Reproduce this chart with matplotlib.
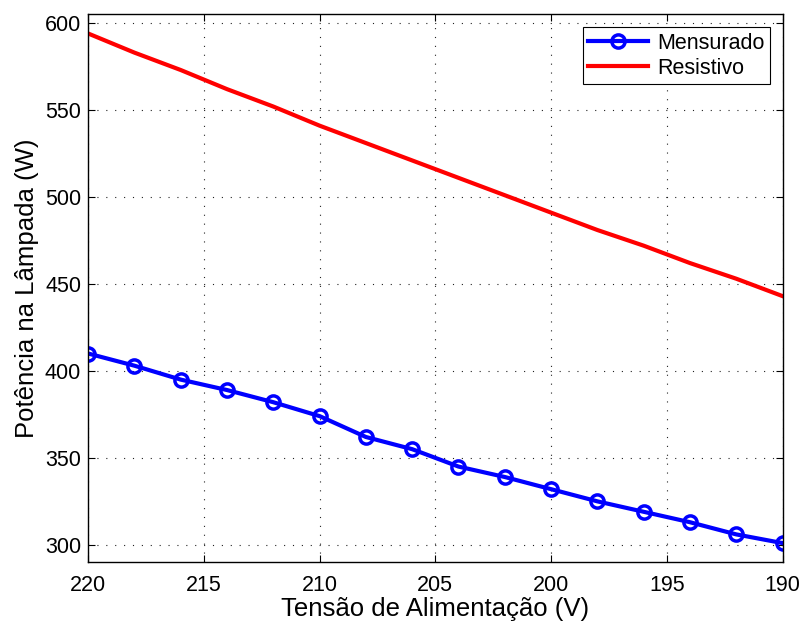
import matplotlib.pyplot as plt

plt.rcParams['font.family'] = ['Liberation Sans', 'DejaVu Sans']

# Supply voltage (V), stepping down from 220 to 190
tensao = [220, 218, 216, 214, 212, 210, 208, 206, 204, 202, 200, 198, 196, 194, 192, 190]

# Measured lamp power (W)
mensurado = [410, 403, 395, 389, 382, 374, 362, 355, 345, 339, 332, 325, 319, 313, 306, 301]

# Power of an equivalent resistive load (W)
resistivo = [594, 583, 573, 562, 552, 541, 531, 521, 511, 501, 491, 481, 472, 462, 453, 443]

fig = plt.figure(figsize=(8.01, 6.24), dpi=100)
ax = fig.add_axes([0.110, 0.099, 0.867, 0.878])

ax.plot(tensao, mensurado, color='#0000ff', linewidth=3, marker='o',
        markersize=9.5, markerfacecolor='none', markeredgewidth=2.5,
        label='Mensurado')
ax.plot(tensao, resistivo, color='#ff0000', linewidth=3, label='Resistivo')

ax.set_xlim(220, 190)
ax.set_ylim(290, 605)
ax.set_xticks([220, 215, 210, 205, 200, 195, 190])
ax.set_yticks([300, 350, 400, 450, 500, 550, 600])
ax.tick_params(direction='in', top=True, right=True, labelsize=15.5, length=5)
ax.tick_params(axis='x', pad=9)
ax.tick_params(axis='y', pad=5)
ax.grid(True, linestyle=(0, (1, 7)), color='#222222', linewidth=0.8)

ax.set_xlabel('Tensão de Alimentação (V)', fontsize=18.5, labelpad=1)
ax.set_ylabel('Potência na Lâmpada (W)', fontsize=18.5, labelpad=4)

leg = ax.legend(loc='upper right', fontsize=15.5, fancybox=False, framealpha=1,
                edgecolor='black', handlelength=2.8, borderaxespad=0.6,
                borderpad=0.25, labelspacing=0.2, handletextpad=0.4)
leg.get_frame().set_linewidth(0.8)

for s in ax.spines.values():
    s.set_linewidth(1)

fig.savefig('out.png', dpi=100)
